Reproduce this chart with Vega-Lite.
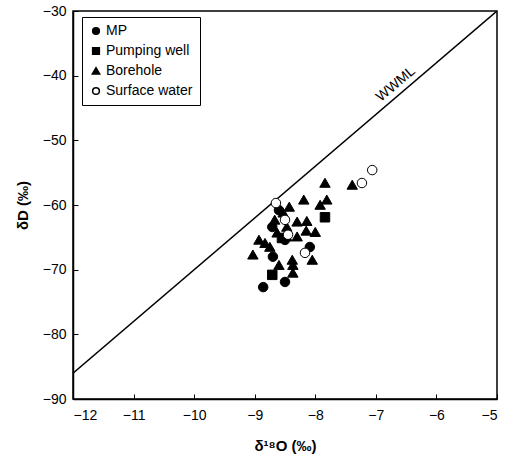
{
  "$schema": "https://vega.github.io/schema/vega-lite/v6.json",
  "autosize": "none",
  "width": 424,
  "height": 388,
  "padding": {"left": 73, "top": 11, "right": 11, "bottom": 60},
  "background": "white",
  "encoding": {
    "x": {
      "field": "o", "type": "quantitative",
      "scale": {"domain": [-12, -5], "nice": false, "zero": false},
      "axis": {"title": "δ¹⁸O (‰)", "values": [-12, -11, -10, -9, -8, -7, -6, -5], "labelPadding": 14, "titlePadding": 16, "format": "d"}
    },
    "y": {
      "field": "d", "type": "quantitative",
      "scale": {"domain": [-90, -30], "nice": false, "zero": false},
      "axis": {"title": "δD (‰)", "values": [-90, -80, -70, -60, -50, -40, -30], "labelPadding": 12, "titlePadding": 12, "format": "d"}
    }
  },
  "layer": [
    {
      "data": {"values": [{"o": -12, "d": -86}, {"o": -5, "d": -30}]},
      "mark": {"type": "line", "color": "black", "strokeWidth": 1.5, "clip": true},
      "encoding": {}
    },
    {
      "data": {"values": [{"o": -6.67, "d": -41.3, "t": "WWML"}]},
      "mark": {"type": "text", "angle": 320, "fontSize": 14, "color": "black", "font": "Liberation Sans"},
      "encoding": {
        "text": {"field": "t"}
      }
    },
    {
      "data": {"values": [
        {"type": "Borehole", "o": -7.84, "d": -56.6},
        {"type": "Borehole", "o": -7.39, "d": -56.9},
        {"type": "Borehole", "o": -8.19, "d": -59.2},
        {"type": "Borehole", "o": -7.92, "d": -60.0},
        {"type": "Borehole", "o": -7.81, "d": -59.2},
        {"type": "Borehole", "o": -8.43, "d": -60.3},
        {"type": "Borehole", "o": -8.67, "d": -62.3},
        {"type": "Borehole", "o": -8.30, "d": -62.6},
        {"type": "Borehole", "o": -8.14, "d": -62.5},
        {"type": "Borehole", "o": -8.00, "d": -64.2},
        {"type": "Borehole", "o": -8.15, "d": -64.0},
        {"type": "Borehole", "o": -8.63, "d": -64.3},
        {"type": "Borehole", "o": -8.30, "d": -64.9},
        {"type": "Borehole", "o": -8.47, "d": -64.9},
        {"type": "Borehole", "o": -8.93, "d": -65.4},
        {"type": "Borehole", "o": -8.83, "d": -65.9},
        {"type": "Borehole", "o": -9.03, "d": -67.7},
        {"type": "Borehole", "o": -8.75, "d": -66.5},
        {"type": "Borehole", "o": -8.60, "d": -69.3},
        {"type": "Borehole", "o": -8.38, "d": -68.5},
        {"type": "Borehole", "o": -8.37, "d": -69.3},
        {"type": "Borehole", "o": -8.37, "d": -70.5},
        {"type": "Borehole", "o": -8.05, "d": -68.5},
        {"type": "Borehole", "o": -8.47, "d": -63.4},
        {"type": "Borehole", "o": -8.53, "d": -61.2},
        {"type": "MP", "o": -8.86, "d": -72.7},
        {"type": "MP", "o": -8.50, "d": -71.9},
        {"type": "MP", "o": -8.70, "d": -68.0},
        {"type": "MP", "o": -8.09, "d": -66.5},
        {"type": "MP", "o": -8.60, "d": -60.8},
        {"type": "MP", "o": -8.50, "d": -65.4},
        {"type": "MP", "o": -8.71, "d": -63.4},
        {"type": "Pumping well", "o": -8.71, "d": -70.8},
        {"type": "Pumping well", "o": -7.84, "d": -61.9},
        {"type": "Pumping well", "o": -8.55, "d": -65.1},
        {"type": "Surface water", "o": -7.06, "d": -54.6},
        {"type": "Surface water", "o": -7.23, "d": -56.6},
        {"type": "Surface water", "o": -8.65, "d": -59.7},
        {"type": "Surface water", "o": -8.17, "d": -67.4},
        {"type": "Surface water", "o": -8.50, "d": -62.3},
        {"type": "Surface water", "o": -8.45, "d": -64.6}
      ]},
      "mark": {"type": "point", "filled": true, "stroke": "black", "strokeWidth": 1, "size": 90, "opacity": 1},
      "encoding": {
        "shape": {
          "field": "type", "type": "nominal",
          "scale": {"domain": ["MP", "Pumping well", "Borehole", "Surface water"], "range": ["circle", "square", "M0,-1L1.1,0.9L-1.1,0.9Z", "circle"]},
          "legend": {
            "title": null,
            "orient": "none",
            "legendX": 9,
            "legendY": 6,
            "strokeColor": "black",
            "padding": 7,
            "symbolSize": 45,
            "rowPadding": 6,
            "labelOffset": 3,
            "labelFontSize": 14,
            "labelColor": "black",
            "encode": {"symbols": {"update": {"stroke": {"value": "black"}, "strokeWidth": {"value": 1}}}}
          }
        },
        "fill": {
          "field": "type", "type": "nominal",
          "scale": {"domain": ["MP", "Pumping well", "Borehole", "Surface water"], "range": ["black", "black", "black", "white"]},
          "legend": {"title": null}
        }
      }
    }
  ],
  "config": {
    "font": "Liberation Sans",
    "view": {"stroke": "black", "strokeWidth": 1.5},
    "axis": {
      "domainColor": "black",
      "domainWidth": 1.5,
      "tickColor": "black",
      "labelColor": "black",
      "titleColor": "black",
      "grid": false,
      "labelFont": "Liberation Sans",
      "titleFont": "Liberation Sans",
      "labelFontSize": 14,
      "titleFontSize": 15,
      "titleFontWeight": "bold",
      "tickSize": -5
    },
    "legend": {
      "labelFont": "Liberation Sans",
      "labelFontSize": 14,
      "labelColor": "black"
    }
  }
}
